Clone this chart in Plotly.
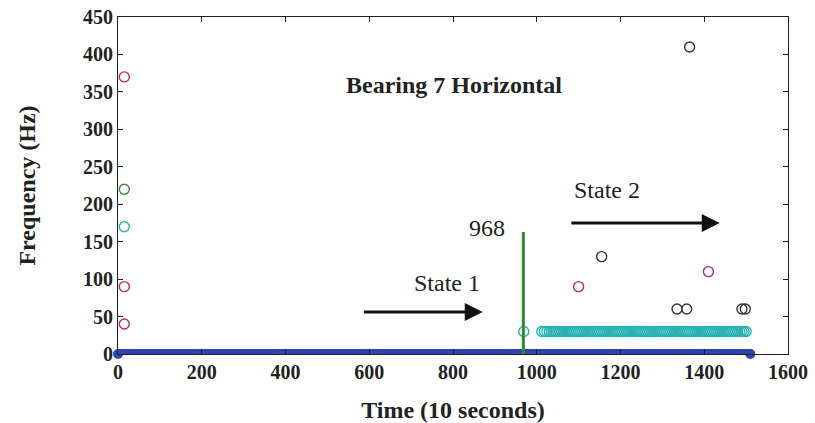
import plotly.graph_objects as go

# ---- data ----
blue_x = [0, 1510]
blue_y = [0, 0]

change_x = [968, 968]
change_y = [0, 163]

cyan_x = [15, 969, 1012, 1018, 1024, 1030, 1035, 1040, 1045, 1050, 1055, 1060, 1065, 1070,
          1075, 1080, 1085, 1090, 1095, 1100, 1105, 1110, 1115, 1120, 1125, 1130, 1135,
          1140, 1145, 1150, 1155, 1160, 1165, 1170, 1175, 1180, 1185, 1190, 1195, 1200,
          1205, 1210, 1215, 1220, 1225, 1230, 1235, 1240, 1245, 1250, 1255, 1260, 1265,
          1270, 1275, 1280, 1285, 1290, 1295, 1300, 1305, 1310, 1315, 1320, 1325, 1330,
          1335, 1340, 1345, 1350, 1355, 1360, 1365, 1370, 1375, 1380, 1385, 1390, 1395,
          1400, 1405, 1410, 1415, 1420, 1425, 1430, 1435, 1440, 1445, 1450, 1455, 1460,
          1465, 1470, 1475, 1480, 1485, 1490, 1495, 1500]
cyan_y = [170] + [30] * (len(cyan_x) - 1)

black_x = [1155, 1335, 1358, 1365, 1490, 1498]
black_y = [130, 60, 60, 410, 60, 60]

red_x = [15, 15, 1100]
red_y = [370, 90, 90]

magenta_x = [15, 1410]
magenta_y = [40, 110]

green_x = [15]
green_y = [220]

x_ticks = [0, 200, 400, 600, 800, 1000, 1200, 1400, 1600]
y_ticks = [0, 50, 100, 150, 200, 250, 300, 350, 400, 450]

SERIF = "Liberation Serif"

fig = go.Figure()

def circles(x, y, color):
    fig.add_trace(go.Scatter(x=x, y=y, mode="markers",
                             marker=dict(symbol="circle-open", size=10, color=color,
                                         line=dict(width=1.4, color=color)),
                             showlegend=False, hoverinfo="skip"))

circles(cyan_x, cyan_y, "#2ab3b3")
circles(black_x, black_y, "#333333")
circles(red_x, red_y, "#c0304a")
circles(magenta_x, magenta_y, "#a0308a")
circles(green_x, green_y, "#3a8a3a")

fig.add_trace(go.Scatter(x=blue_x, y=blue_y, mode="lines+markers",
                         line=dict(color="#2b44b0", width=10),
                         marker=dict(size=10, color="#2b44b0"),
                         showlegend=False, hoverinfo="skip", cliponaxis=False))

fig.add_trace(go.Scatter(x=change_x, y=change_y, mode="lines",
                         line=dict(color="#2e8b2e", width=3),
                         showlegend=False, hoverinfo="skip"))

annotations = [
    dict(x=802, y=359, text="<b>Bearing 7 Horizontal</b>", showarrow=False,
         font=dict(family=SERIF, size=24, color="#222")),
    dict(x=930, y=168, text="968", showarrow=False, xanchor="right",
         font=dict(family=SERIF, size=24, color="#222")),
    dict(x=785, y=95, text="State 1", showarrow=False,
         font=dict(family=SERIF, size=24, color="#222")),
    dict(x=1167, y=219, text="State 2", showarrow=False,
         font=dict(family=SERIF, size=24, color="#222")),
    dict(x=871, y=56, ax=584, ay=56, xref="x", yref="y", axref="x", ayref="y",
         text="", showarrow=True, arrowhead=2, arrowsize=1.2, arrowwidth=3, arrowcolor="#111"),
    dict(x=1437, y=175, ax=1079, ay=175, xref="x", yref="y", axref="x", ayref="y",
         text="", showarrow=True, arrowhead=2, arrowsize=1.2, arrowwidth=3, arrowcolor="#111"),
]

fig.update_layout(
    width=815, height=423,
    margin=dict(l=118, r=27, t=17, b=69),
    paper_bgcolor="white", plot_bgcolor="white",
    annotations=annotations,
    xaxis=dict(range=[0, 1600], tickvals=x_ticks, ticktext=["<b>%d</b>" % v for v in x_ticks],
               automargin=False, ticklabeloverflow="allow",
               showgrid=False, zeroline=False, showline=True, linecolor="#222", linewidth=1,
               mirror="ticks", ticks="inside", ticklen=5, tickcolor="#222",
               tickfont=dict(family=SERIF, size=20, color="#222"),
               title=dict(text="<b>Time (10 seconds)</b>", standoff=22,
                          font=dict(family=SERIF, size=24, color="#222"))),
    yaxis=dict(range=[0, 450], tickvals=y_ticks, ticktext=["<b>%d</b>" % v for v in y_ticks],
               automargin=False, ticklabeloverflow="allow",
               showgrid=False, zeroline=False, showline=True, linecolor="#222", linewidth=1,
               mirror="ticks", ticks="inside", ticklen=5, tickcolor="#222",
               tickfont=dict(family=SERIF, size=20, color="#222"),
               title=dict(text="<b>Frequency (Hz)</b>", standoff=40,
                          font=dict(family=SERIF, size=24, color="#222"))),
)

fig.write_html("out.html", config={"displayModeBar": False},
               post_script="document.body.style.margin='0px';document.body.style.overflow='hidden';")
